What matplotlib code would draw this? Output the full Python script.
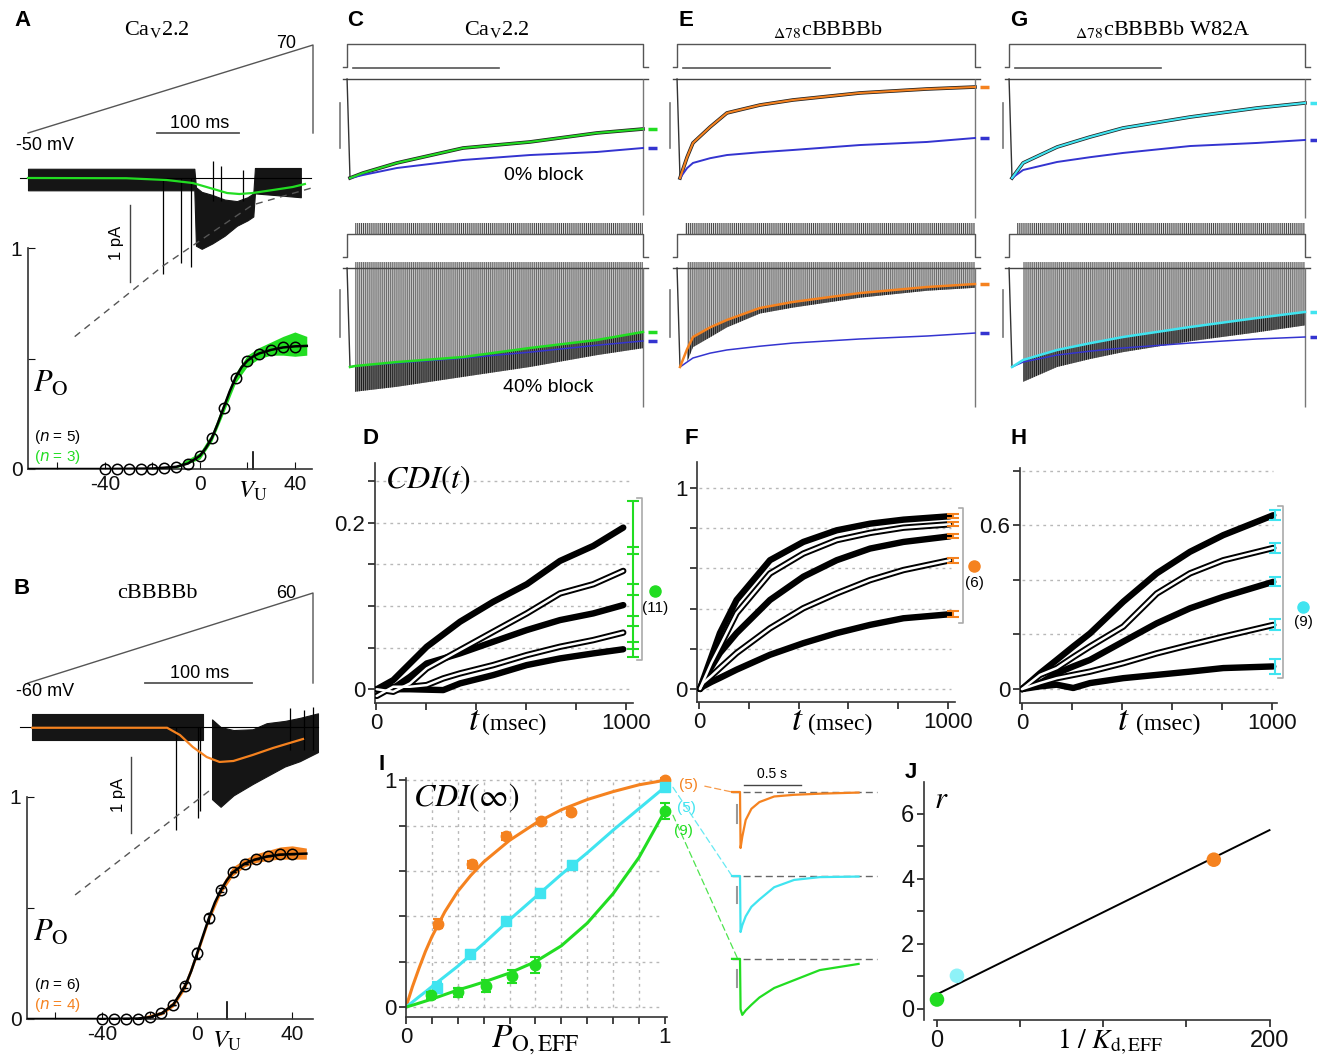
import numpy as np
import matplotlib
matplotlib.use('Agg')
import matplotlib.pyplot as plt
from matplotlib.patches import ConnectionPatch

# ======================= DATA =======================
# ---- Panel A (CaV2.2): ramp, single-channel record, Po-V
A_ramp_t = [0, 348, 348]
A_ramp_v = [-50, 70, -50]
A_bar_t = [158, 258]
A_noise_t = [0, 100, 203, 205, 212, 225, 240, 255, 268, 275, 277, 300, 333]
A_noise_hi = [0.12, 0.12, 0.12, -0.12, -0.18, -0.22, -0.28, -0.3, -0.25, -0.2, 0.13, 0.13, 0.13]
A_noise_lo = [-0.16, -0.16, -0.16, -0.88, -0.92, -0.85, -0.75, -0.62, -0.55, -0.5, -0.2, -0.22, -0.25]
A_open_t = [165, 187, 199]
A_open_i = [-1.25, -1.1, -1.15]
A_close_t = [226, 236, 262]
A_close_i = [0.22, 0.15, 0.1]
A_avg_t = [0, 120, 169, 201, 218, 243, 258, 274, 299, 323, 338]
A_avg_i = [0, -0.003, -0.026, -0.065, -0.117, -0.195, -0.208, -0.195, -0.156, -0.117, -0.078]
A_ghk_t = [57, 165, 198, 274, 346]
A_ghk_i = [-2.06, -1.14, -0.9, -0.35, -0.13]
A_v = [-40, -35, -30, -25, -20, -15, -10, -5, 0, 5, 10, 15, 20, 25, 30, 35, 40]
A_po = [0, 0, 0, 0, 0, 0.003, 0.007, 0.024, 0.057, 0.142, 0.278, 0.413, 0.488, 0.521, 0.539, 0.551, 0.554]
A_fit_v = [-72, -40, -20, -10, -5, 0, 2.5, 5, 7.5, 10, 12.5, 15, 17.5, 20, 22.5, 25, 30, 35, 40, 45]
A_fit_p = [0, 0, 0.002, 0.01, 0.025, 0.06, 0.095, 0.14, 0.205, 0.278, 0.35, 0.413, 0.46, 0.49, 0.51, 0.523, 0.539, 0.55, 0.555, 0.557]
A_gv = [-20, -10, 0, 5, 10, 15, 20, 25, 30, 35, 40, 45]
A_glo = [0, 0.005, 0.045, 0.125, 0.255, 0.39, 0.465, 0.5, 0.515, 0.515, 0.51, 0.515]
A_ghi = [0.004, 0.015, 0.075, 0.16, 0.3, 0.435, 0.515, 0.55, 0.575, 0.6, 0.62, 0.6]
A_vu = 22.3

# ---- Panel B (cBBBBb)
B_ramp_t = [0, 266, 266]
B_ramp_v = [-60, 60, -60]
B_bar_t = [109, 209]
B_noise1_t = [4, 80, 164]
B_noise1_hi = [0.17, 0.17, 0.17]
B_noise1_lo = [-0.17, -0.17, -0.17]
B_noise2_t = [172, 180, 192, 210, 223, 240, 254, 271]
B_noise2_hi = [0.1, 0.0, -0.04, -0.03, 0.05, 0.08, 0.12, 0.18]
B_noise2_lo = [-0.95, -1.05, -0.9, -0.75, -0.65, -0.52, -0.45, -0.33]
B_open_t = [138, 159, 161]
B_open_i = [-1.36, -1.2, -1.1]
B_close_t = [245, 258, 266]
B_close_i = [0.25, 0.22, 0.26]
B_avg_t = [4, 130, 142, 154, 167, 179, 192, 210, 229, 257]
B_avg_i = [-0.01, -0.01, -0.105, -0.263, -0.395, -0.46, -0.447, -0.368, -0.276, -0.158]
B_ghk_t = [44, 173]
B_ghk_i = [-2.21, -0.80]
B_v = [-40, -35, -30, -25, -20, -15, -10, -5, 0, 5, 10, 15, 20, 25, 30, 35, 40]
B_po = [0, 0, 0, 0, 0.008, 0.027, 0.064, 0.15, 0.296, 0.454, 0.581, 0.66, 0.698, 0.719, 0.734, 0.741, 0.743]
B_err = [0, 0, 0, 0, 0, 0, 0, 0.01, 0.025, 0.02, 0.01, 0, 0, 0, 0, 0, 0]
B_fit_v = [-72, -40, -25, -20, -15, -10, -5, -2.5, 0, 2.5, 5, 7.5, 10, 12.5, 15, 20, 25, 30, 35, 40, 46]
B_fit_p = [0, 0, 0.002, 0.008, 0.025, 0.065, 0.15, 0.215, 0.295, 0.375, 0.455, 0.525, 0.58, 0.625, 0.66, 0.7, 0.72, 0.733, 0.74, 0.743, 0.745]
B_ov = [-25, -15, -10, -5, 0, 5, 10, 15, 20, 25, 30, 35, 40, 46]
B_olo = [0, 0.018, 0.055, 0.135, 0.28, 0.44, 0.565, 0.645, 0.685, 0.705, 0.715, 0.72, 0.72, 0.72]
B_ohi = [0.005, 0.035, 0.08, 0.17, 0.315, 0.475, 0.6, 0.685, 0.72, 0.745, 0.76, 0.775, 0.78, 0.77]
B_vu = 12.6

# ---- Panels C/E/G: normalized currents (0 = baseline, -1 = peak)
STEP_T = [-24, -10, -10, 1000, 1000, 1017]
STEP_TOP_V = [0.121, 0.121, 0.354, 0.354, 0.121, 0.121]
STEP_BOT_V = [0.111, 0.111, 0.343, 0.343, 0.111, 0.111]
TRAIN_T = [17, 1000]
TRAIN_LO, TRAIN_HI = 0.343, 0.455
BAR500_T = [10, 510]
BASE_T = [-24, 1017]
ACT_T = [-10]
ACT_I = [0]

C_top_t = [0, 44, 160, 386, 614, 843, 1000]
C_top_fit = [-1, -0.95, -0.848, -0.697, -0.636, -0.545, -0.505]
C_top_blue = [-1, -0.97, -0.899, -0.818, -0.768, -0.737, -0.697]
C_bot_t = [0, 17, 160, 386, 614, 843, 1000]
C_bot_fit = [-1, -0.99, -0.95, -0.899, -0.808, -0.727, -0.646]
C_bot_blue = [-1, -0.99, -0.96, -0.91, -0.85, -0.78, -0.737]
C_bot_tips = [-1.0, -1.25, -1.2, -1.1, -1.0, -0.88, -0.81]

E_top_t = [0, 24, 44, 102, 159, 271, 383, 610, 837, 1000]
E_top_fit = [-1, -0.79, -0.646, -0.485, -0.343, -0.263, -0.212, -0.141, -0.101, -0.081]
E_top_blue = [-1, -0.9, -0.848, -0.8, -0.768, -0.74, -0.717, -0.667, -0.636, -0.596]
E_bot_t = [0, 24, 44, 102, 159, 271, 383, 610, 837, 1000]
E_bot_fit = [-1, -0.82, -0.697, -0.6, -0.525, -0.404, -0.343, -0.253, -0.192, -0.162]
E_bot_blue = [-1, -0.95, -0.909, -0.86, -0.828, -0.79, -0.758, -0.717, -0.687, -0.657]
E_bot_tips = [-1.05, -0.95, -0.8, -0.7, -0.6, -0.46, -0.4, -0.3, -0.23, -0.2]

G_top_t = [0, 38, 154, 266, 379, 608, 836, 1000]
G_top_fit = [-1, -0.848, -0.687, -0.586, -0.495, -0.384, -0.293, -0.242]
G_top_blue = [-1, -0.919, -0.838, -0.79, -0.747, -0.677, -0.646, -0.616]
G_bot_t = [0, 38, 154, 266, 379, 608, 836, 1000]
G_bot_fit = [-1, -0.929, -0.828, -0.76, -0.697, -0.596, -0.505, -0.444]
G_bot_blue = [-1, -0.95, -0.879, -0.84, -0.808, -0.758, -0.717, -0.697]
G_bot_tips = [-1.0, -1.15, -1.0, -0.92, -0.85, -0.74, -0.65, -0.58]

# ---- Panel D: CDI(t) CaV2.2
D_t1 = [3, 69, 136, 203, 336, 469, 603, 736, 869, 989]
D_c1 = [0, 0.011, 0.031, 0.051, 0.081, 0.105, 0.126, 0.154, 0.172, 0.194]
D_c2 = [0, -0.003, 0.007, 0.025, 0.047, 0.069, 0.091, 0.115, 0.126, 0.142]
D_c3 = [0, 0.001, 0.015, 0.031, 0.043, 0.057, 0.071, 0.083, 0.091, 0.101]
D_t4 = [3, 69, 136, 203, 269, 336, 469, 603, 736, 869, 989]
D_c4 = [-0.008, 0.003, 0.003, 0.005, 0.013, 0.019, 0.029, 0.041, 0.051, 0.059, 0.068]
D_t5 = [3, 136, 269, 336, 469, 603, 736, 869, 989]
D_c5 = [0, 0, -0.001, 0.007, 0.017, 0.029, 0.037, 0.043, 0.048]
D_err = [0.032, 0.029, 0.025, 0.02, 0.009]

# ---- Panel F: CDI(t) d78cBBBBb
F_t = [4, 17, 50, 84, 151, 285, 419, 553, 687, 821, 1008]
F_c1 = [0, 0.046, 0.16, 0.278, 0.443, 0.641, 0.732, 0.79, 0.823, 0.843, 0.86]
F_c2 = [0, 0.038, 0.13, 0.212, 0.377, 0.575, 0.674, 0.741, 0.777, 0.803, 0.82]
F_c3 = [0, 0.038, 0.11, 0.179, 0.278, 0.443, 0.559, 0.641, 0.699, 0.732, 0.76]
F_c4 = [0, 0.03, 0.065, 0.104, 0.179, 0.302, 0.402, 0.476, 0.542, 0.592, 0.641]
F_c5 = [0, 0.013, 0.035, 0.055, 0.096, 0.17, 0.228, 0.278, 0.319, 0.352, 0.372]
F_err = [0.01, 0.01, 0.01, 0.012, 0.016]

# ---- Panel H: CDI(t) d78cBBBBb W82A
H_t = [0, 72, 139, 205, 272, 405, 539, 672, 805, 1005]
H_c1 = [0, 0.058, 0.107, 0.156, 0.204, 0.32, 0.424, 0.503, 0.564, 0.637]
H_c2 = [0, 0.052, 0.077, 0.117, 0.156, 0.229, 0.35, 0.424, 0.472, 0.517]
H_c3 = [0, 0.022, 0.058, 0.083, 0.107, 0.174, 0.241, 0.296, 0.338, 0.393]
H_c4 = [0, 0.022, 0.04, 0.052, 0.064, 0.095, 0.131, 0.162, 0.192, 0.235]
H_c5 = [0, 0.01, 0.016, 0.004, 0.022, 0.04, 0.052, 0.064, 0.077, 0.083]
H_err = [0.018, 0.017, 0.017, 0.02, 0.027]

# ---- Panel I: CDI(inf) vs Po,EFF
I_or_x = [0.125, 0.254, 0.385, 0.52, 0.637, 1.0]
I_or_y = [0.368, 0.629, 0.753, 0.819, 0.86, 1.0]
I_or_e = [0.02, 0.015, 0.015, 0.012, 0.015, 0.01]
I_cy_x = [0.121, 0.247, 0.386, 0.517, 0.642, 1.0]
I_cy_y = [0.085, 0.235, 0.379, 0.504, 0.628, 0.97]
I_cy_e = [0.025, 0.015, 0.015, 0.015, 0.015, 0.015]
I_gr_x = [0.097, 0.202, 0.308, 0.41, 0.498, 1.0]
I_gr_y = [0.051, 0.066, 0.093, 0.135, 0.187, 0.865]
I_gr_e = [0.015, 0.02, 0.025, 0.03, 0.035, 0.035]
I_fit_x = [0, 0.025, 0.05, 0.075, 0.1, 0.15, 0.2, 0.25, 0.3, 0.4, 0.5, 0.6, 0.7, 0.8, 0.9, 1.0]
I_fit_or = [0, 0.09, 0.17, 0.245, 0.31, 0.42, 0.51, 0.58, 0.64, 0.735, 0.81, 0.87, 0.915, 0.95, 0.98, 1.0]
I_fit_cy = [0, 0.022, 0.045, 0.067, 0.09, 0.135, 0.18, 0.23, 0.28, 0.385, 0.485, 0.585, 0.68, 0.78, 0.875, 0.97]
I_fit_gr = [0, 0.008, 0.017, 0.026, 0.035, 0.055, 0.075, 0.092, 0.11, 0.15, 0.2, 0.27, 0.37, 0.5, 0.66, 0.865]
# inset traces (s, normalized)
IN_t = [-0.07, 0.0, 0.005, 0.02, 0.05, 0.1, 0.17, 0.3, 0.475, 0.7, 1.04]
IN_or = [0, 0, -1.0, -0.8, -0.5, -0.3, -0.18, -0.08, -0.05, -0.03, -0.01]
IN_cy = [0, 0, -1.0, -0.88, -0.72, -0.55, -0.42, -0.2, -0.07, -0.02, -0.01]
IN_gr = [0, 0, -0.9, -1.0, -0.92, -0.82, -0.69, -0.52, -0.38, -0.2, -0.09]
IN_off = [0, -1.5, -2.98]

# ---- Panel J: r vs 1/Kd,EFF
J_x = [0, 12, 166.5]
J_y = [0.29, 1.02, 4.59]
J_line_x = [0, 200]
J_line_y = [0.45, 5.5]

# ======================= STYLE =======================
W, H = 1317, 1056
plt.rcParams['font.family'] = ['Liberation Sans', 'DejaVu Sans']
plt.rcParams['mathtext.fontset'] = 'stix'
plt.rcParams['hatch.linewidth'] = 0.7
SERIF = ['Liberation Serif', 'DejaVu Serif']
GREEN = '#22dd22'; ORANGE = '#f5821f'; CYAN = '#40e4f0'; BLUE = '#3434d0'
LCYAN = '#8ef2f8'; DGRAY = '#555555'

fig = plt.figure(figsize=(W / 100, H / 100), dpi=100)


def add_ax(l, t, r, b):
    ax = fig.add_axes([l / W, 1 - b / H, (r - l) / W, (b - t) / H])
    ax.patch.set_visible(False)
    return ax


def mapped(box, xa, xb, ya, yb):
    l, t, r, b = box
    ax = add_ax(*box)
    sx = (xb[1] - xa[1]) / (xb[0] - xa[0])
    ax.set_xlim(xa[1] + (l - xa[0]) * sx, xa[1] + (r - xa[0]) * sx)
    sy = (yb[1] - ya[1]) / (yb[0] - ya[0])
    ax.set_ylim(ya[1] + (b - ya[0]) * sy, ya[1] + (t - ya[0]) * sy)
    ax.set_axis_off()
    return ax


def ftext(x, y, s, **kw):
    kw.setdefault('ha', 'center')
    kw.setdefault('va', 'center')
    return fig.text(x / W, 1 - y / H, s, **kw)


def letter(x, y, s):
    ftext(x, y, s, fontsize=16, fontweight='bold', ha='left')


def style_axes(ax):
    for s in ['top', 'right']:
        ax.spines[s].set_visible(False)
    for s in ['left', 'bottom']:
        ax.spines[s].set_linewidth(1.2)
        ax.spines[s].set_color('#333333')


# ======================= PANEL A / B =======================
def ramp_panel(top, ramp_t, ramp_v, bar_t, pxmap, vmap, vlow):
    ax = mapped(top, *pxmap, *vmap)
    ax.plot(ramp_t, ramp_v, color=DGRAY, lw=1)
    ax.plot(bar_t, [vlow, vlow], color=DGRAY, lw=1.3)
    return ax


def record_panel(box, xmap, ymap, base_t, fills, opens, closes, avg, ghk, sbar, color):
    ax = mapped(box, *xmap, *ymap)
    ax.plot(base_t, [0, 0], color='k', lw=0.8)
    for (t, lo, hi) in fills:
        ax.fill_between(t, lo, hi, color='#151515', lw=0.8)
    ax.vlines(opens[0], opens[1], 0, color='k', lw=0.9)
    ax.vlines(closes[0], -0.3, closes[1], color='k', lw=0.9)
    ax.plot(avg[0], avg[1], color=color, lw=1.6)
    ax.plot(ghk[0], ghk[1], color='#555555', lw=1, ls=(0, (5, 4)))
    ax.plot([sbar[0], sbar[0]], sbar[1:], color='#444444', lw=1)
    return ax


def po_panel(box, xlim, v, po, fit_v, fit_p, bv, blo, bhi, color, vu, err=None):
    ax = add_ax(*box)
    style_axes(ax)
    ax.set_xlim(*xlim)
    ax.set_ylim(0, 1)
    ax.fill_between(bv, blo, bhi, color=color, lw=0, zorder=2)
    ax.plot(fit_v, fit_p, color='k', lw=1.8, zorder=3)
    if err is not None:
        ax.errorbar(v, po, yerr=err, fmt='none', ecolor='k', elinewidth=0.8, capsize=2, zorder=3)
    ax.plot(v, po, 'o', mfc='none', mec='k', ms=7.5, mew=1.1, clip_on=False, zorder=4)
    ax.set_yticks([0, 0.5, 1])
    ax.set_yticklabels(['0', '', '1'])
    ax.set_xticks([-60, -40, -20, 0, 20, 40])
    ax.set_xticklabels(['', '-40', '', '0', '', '40'])
    ax.tick_params(direction='in', length=5, labelsize=15, pad=4, colors='#111111')
    ax.plot([vu, vu], [0, 0.075], color='k', lw=1.2, clip_on=False)
    ax.text(vu, -0.045, r'$V_{\mathrm{U}}$', fontsize=18, ha='center', va='top')
    return ax


# A
letter(14, 20, 'A')
ftext(157, 30, r'Ca$_{\mathrm{V}}$2.2', fontsize=16, family=SERIF)
ramp_panel((20, 38, 320, 140), A_ramp_t, A_ramp_v, A_bar_t, [(28, 0), (313, 348)], [(133, -50), (45, 70)], -50)
ftext(286, 44, '70', fontsize=13)
ftext(16, 145, '-50 mV', fontsize=13, ha='left')
ftext(200, 124, '100 ms', fontsize=13)
record_panel((15, 150, 325, 345), [(28, 0), (300, 332)], [(178, 0), (255, -1)], [-10, 346],
             [(A_noise_t, A_noise_lo, A_noise_hi)], (A_open_t, A_open_i), (A_close_t, A_close_i),
             (A_avg_t, A_avg_i), (A_ghk_t, A_ghk_i), (124, -0.35, -1.35), GREEN)
ftext(117, 243, '1 pA', fontsize=12, rotation=90)
po_panel((28, 248, 312, 469), (-72.4, 47.2), A_v, A_po, A_fit_v, A_fit_p, A_gv, A_glo, A_ghi, GREEN, A_vu)
ftext(33, 384, r'$P_{\mathrm{O}}$', fontsize=22, ha='left')
ftext(34, 437, r'($\mathit{n}$ = 5)', fontsize=11, ha='left', math_fontfamily='dejavusans')
ftext(34, 457, r'($\mathit{n}$ = 3)', fontsize=11, ha='left', color=GREEN, math_fontfamily='dejavusans')

# B
letter(14, 589, 'B')
ftext(157, 593, 'cBBBBb', fontsize=16, family=SERIF)
ramp_panel((20, 585, 320, 690), B_ramp_t, B_ramp_v, B_bar_t, [(28, 0), (313, 266)], [(683, -60), (593, 60)], -60)
ftext(286, 593, '60', fontsize=13)
ftext(16, 692, '-60 mV', fontsize=13, ha='left')
ftext(200, 674, '100 ms', fontsize=13)
record_panel((15, 695, 325, 900), [(28, 0), (135, 100)], [(727, 0), (803, -1)], [-7.5, 271],
             [(B_noise1_t, B_noise1_lo, B_noise1_hi), (B_noise2_t, B_noise2_lo, B_noise2_hi)],
             (B_open_t, B_open_i), (B_close_t, B_close_i),
             (B_avg_t, B_avg_i), (B_ghk_t, B_ghk_i), (96, -0.39, -1.39), ORANGE)
ftext(118, 795, '1 pA', fontsize=12, rotation=90)
po_panel((27, 797, 313, 1019), (-71.6, 48.8), B_v, B_po, B_fit_v, B_fit_p, B_ov, B_olo, B_ohi, ORANGE, B_vu, err=B_err)
ftext(33, 933, r'$P_{\mathrm{O}}$', fontsize=22, ha='left')
ftext(34, 985, r'($\mathit{n}$ = 6)', fontsize=11, ha='left', math_fontfamily='dejavusans')
ftext(34, 1005, r'($\mathit{n}$ = 4)', fontsize=11, ha='left', color=ORANGE, math_fontfamily='dejavusans')


# ======================= PANELS C / E / G =======================
def trace_column(l, r, x0, x1000, top, bot, color, tails, sb_t):
    # top: 0% block
    axT = mapped((l, 38, r, 225), (x0, 0), (x1000, 1000), (79, 0), (178, -1))
    axT.plot(STEP_T, STEP_TOP_V, color=DGRAY, lw=1, clip_on=False)
    axT.plot(BAR500_T, [0.111, 0.111], color=DGRAY, lw=1.2)
    axT.plot(BASE_T, [0, 0], color='#444444', lw=1)
    t, fit, blue = top
    axT.plot(ACT_T + t[:1], ACT_I + fit[:1], color='#333333', lw=1.0, zorder=2)
    axT.plot(t, fit, color='#222222', lw=2.6, zorder=2)
    axT.plot(t, blue, color=BLUE, lw=1.4, zorder=3)
    axT.plot(t, fit, color=color, lw=1.5, zorder=4)
    axT.vlines(1000, tails[0], 0, color='#777777', lw=1)
    axT.hlines([fit[-1], blue[-1]], 1017, 1047, colors=[color, BLUE], lw=2.5, clip_on=False)
    axT.plot([sb_t, sb_t], [-0.24, -0.7], color='#777777', lw=1.2, clip_on=False)
    # bottom: 40% block
    axB = mapped((l, 215, r, 412), (x0, 0), (x1000, 1000), (268, 0), (367, -1))
    axB.fill_between(TRAIN_T, TRAIN_LO, TRAIN_HI, facecolor='#dddddd', edgecolor='#444444',
                     hatch='||||||||', lw=0)
    axB.plot(STEP_T, STEP_BOT_V, color=DGRAY, lw=1, clip_on=False)
    axB.plot(BASE_T, [0, 0], color='#444444', lw=1)
    t, fit, blue, tips = bot
    axB.plot(ACT_T + t[:1], ACT_I + fit[:1], color='#333333', lw=1.0)
    axB.fill_between(t[1:], fit[1:], 0.06, facecolor='#c4c4c4', edgecolor='#6a6a6a', hatch='||||||||', lw=0)
    axB.fill_between(t[1:], tips[1:], fit[1:], facecolor='#7a7a7a', edgecolor='#1a1a1a', hatch='||||||||', lw=0)
    axB.plot(t, blue, color=BLUE, lw=1.1, zorder=3)
    axB.plot(t, fit, color=color, lw=1.8, zorder=4)
    axB.vlines(1000, tails[1], 0, color='#777777', lw=1)
    axB.hlines([fit[-1], blue[-1]], 1017, 1047, colors=[color, BLUE], lw=2.5, clip_on=False)
    axB.plot([sb_t, sb_t], [-0.22, -0.7], color='#777777', lw=1.2, clip_on=False)
    return axT, axB


letter(347, 20, 'C')
ftext(497, 29, r'Ca$_{\mathrm{V}}$2.2', fontsize=16, family=SERIF)
trace_column(335, 662, 350, 643, (C_top_t, C_top_fit, C_top_blue),
             (C_bot_t, C_bot_fit, C_bot_blue, C_bot_tips), GREEN, (-1.37, -1.4), -34)
ftext(544, 176, '0% block', fontsize=14)
ftext(548, 388, '40% block', fontsize=14)

letter(678, 20, 'E')
ftext(828, 29, r'$_{\Delta 78}$cBBBBb', fontsize=16, family=SERIF)
trace_column(665, 992, 680, 975, (E_top_t, E_top_fit, E_top_blue),
             (E_bot_t, E_bot_fit, E_bot_blue, E_bot_tips), ORANGE, (-1.4, -1.4), -34)

letter(1010, 20, 'G')
ftext(1163, 29, r'$_{\Delta 78}$cBBBBb W82A', fontsize=16, family=SERIF)
trace_column(995, 1317, 1012, 1305, (G_top_t, G_top_fit, G_top_blue),
             (G_bot_t, G_bot_fit, G_bot_blue, G_bot_tips), CYAN, (-1.4, -1.4), -31)


# ======================= PANELS D / F / H =======================
def cdi_panel(box, xlim, ylim, grid_y, grid_t1, yticks, ylabels, curves, err_t, errs, color,
              br_t, br_top, br_bot, dot_t, dot_v, lab_v, lab):
    ax = add_ax(*box)
    style_axes(ax)
    ax.set_xlim(*xlim)
    ax.set_ylim(*ylim)
    ax.hlines(grid_y, 0, grid_t1, colors='#b8b8b8', linestyles=(0, (2, 3)), lw=1, zorder=0)
    ends = []
    for (t, v, kind) in curves:
        ax.plot(t, v, color='k', lw=4.6, solid_capstyle='round', solid_joinstyle='round', zorder=3)
        if kind == 'open':
            ax.plot(t, v, color='white', lw=1.8, solid_capstyle='round', zorder=4)
        ends.append(v[-1])
    ax.errorbar([err_t] * len(ends), ends, yerr=errs, fmt='none', ecolor=color, elinewidth=1.5,
                capsize=4, capthick=1.5, clip_on=False, zorder=5)
    dx = (xlim[1] - xlim[0]) * 0.018
    ax.plot([br_t - dx, br_t, br_t, br_t - dx], [br_top, br_top, br_bot, br_bot], color='#aaaaaa',
            lw=1.2, clip_on=False)
    ax.plot([dot_t], [dot_v], 'o', color=color, ms=8, clip_on=False)
    ax.text(dot_t, lab_v, lab, fontsize=11, ha='center', va='center')
    ax.set_yticks(yticks)
    ax.set_yticklabels(ylabels)
    ax.set_xticks([0, 200, 400, 600, 800, 1000])
    ax.set_xticklabels(['0', '', '', '', '', '1000'])
    ax.tick_params(direction='out', length=5, width=1.1, labelsize=16, pad=2, colors='#111111')
    return ax


letter(362, 439, 'D')
cdi_panel((375, 463, 633, 703), (-4, 1028), (-0.0165, 0.2715), [0, 0.05, 0.1, 0.15, 0.2, 0.25], 1016,
          [0, 0.05, 0.1, 0.15, 0.2, 0.25], ['0', '', '', '', '0.2', ''],
          [(D_t1, D_c1, 'fill'), (D_t1, D_c2, 'open'), (D_t1, D_c3, 'fill'), (D_t4, D_c4, 'open'),
           (D_t5, D_c5, 'fill')], 1028, D_err, GREEN, 1063, 0.229, 0.035, 1116, 0.118, 0.098, '(11)')
ftext(385, 480, r'$\mathit{CDI}(t)$', fontsize=23, ha='left')

letter(684, 439, 'F')
cdi_panel((697, 462, 955, 702), (-8, 1028), (-0.065, 1.13), [0, 0.2, 0.4, 0.6, 0.8, 1.0], 1010,
          [0, 0.2, 0.4, 0.6, 0.8, 1.0], ['0', '', '', '', '', '1'],
          [(F_t, F_c1, 'fill'), (F_t, F_c2, 'open'), (F_t, F_c3, 'fill'), (F_t, F_c4, 'open'),
           (F_t, F_c5, 'fill')], 1019, F_err, ORANGE, 1061, 0.902, 0.327, 1106, 0.613, 0.53, '(6)')

letter(1010, 439, 'H')
cdi_panel((1020, 468, 1277, 703), (-8, 1020), (-0.051, 0.81), [0, 0.2, 0.4, 0.6, 0.8], 1005,
          [0, 0.2, 0.4, 0.6, 0.8], ['0', '', '', '0.6', ''],
          [(H_t, H_c1, 'fill'), (H_t, H_c2, 'open'), (H_t, H_c3, 'fill'), (H_t, H_c4, 'open'),
           (H_t, H_c5, 'fill')], 1012, H_err, CYAN, 1044, 0.669, 0.040, 1125, 0.302, 0.247, '(9)')

for xt, xm in [(474, 514), (797, 840), (1123, 1168)]:
    ftext(xt, 730, r'$t$', fontsize=26, va='baseline')
    ftext(xm, 730, '(msec)', fontsize=17, va='baseline', family=SERIF)

# ======================= PANEL I =======================
letter(378, 764, 'I')
axI = add_ax(406, 778, 667, 1017)
style_axes(axI)
axI.set_xlim(0, 1.008)
axI.set_ylim(-0.044, 1.01)
axI.hlines([0, 0.2, 0.4, 0.6, 0.8, 1.0], 0, 0.99, colors='#b8b8b8', linestyles=(0, (2, 3)), lw=1, zorder=0)
axI.vlines([0.1, 0.2, 0.3, 0.4, 0.5, 0.6, 0.7, 0.8, 0.9], 0, 1.0, colors='#b8b8b8', linestyles=(0, (2, 3)),
           lw=1, zorder=0)
axI.plot(I_fit_x, I_fit_or, color=ORANGE, lw=2.2, zorder=2)
axI.plot(I_fit_x, I_fit_cy, color=CYAN, lw=2.2, zorder=2)
axI.plot(I_fit_x, I_fit_gr, color=GREEN, lw=2.2, zorder=2)
axI.errorbar(I_or_x, I_or_y, yerr=I_or_e, fmt='o', color=ORANGE, ms=7.5, capsize=3.5, elinewidth=1.5,
             capthick=1.5, clip_on=False, zorder=4)
axI.errorbar(I_cy_x, I_cy_y, yerr=I_cy_e, fmt='s', color=CYAN, ms=6.5, capsize=3.5, elinewidth=1.5,
             capthick=1.5, clip_on=False, zorder=4)
axI.errorbar(I_gr_x, I_gr_y, yerr=I_gr_e, fmt='o', color=GREEN, ms=7.5, capsize=3.5, elinewidth=1.5,
             capthick=1.5, clip_on=False, zorder=4)
axI.set_xticks([0, 0.1, 0.2, 0.3, 0.4, 0.5, 0.6, 0.7, 0.8, 0.9, 1.0])
axI.set_xticklabels(['0', '', '', '', '', '', '', '', '', '', '1'])
axI.set_yticks([0, 0.2, 0.4, 0.6, 0.8, 1.0])
axI.set_yticklabels(['0', '', '', '', '', '1'])
axI.tick_params(direction='out', length=5, width=1.1, labelsize=16, pad=2, colors='#111111')
ftext(413, 798, r'$\mathit{CDI}(\infty)$', fontsize=23, ha='left')
ftext(535, 1040, r'$P_{\mathrm{O,EFF}}$', fontsize=24)
ftext(688, 785, '(5)', fontsize=11, color=ORANGE)
ftext(686, 808, '(5)', fontsize=11, color=CYAN)
ftext(683, 831, '(9)', fontsize=11, color=GREEN)

# inset traces
axIn = mapped((725, 765, 880, 1025), (740, 0), (797, 0.5), (792, 0), (848, -1))
for vals, off, col, sb in [(IN_or, IN_off[0], ORANGE, (-0.23, -0.55)), (IN_cy, IN_off[1], CYAN, (-0.2, -0.48)),
                            (IN_gr, IN_off[2], GREEN, (-0.2, -0.5))]:
    axIn.plot([-0.07, 1.2], [off, off], color='#666666', lw=1, ls=(0, (5, 3)))
    axIn.plot(IN_t, [v + off for v in vals], color=col, lw=1.6)
    axIn.plot([-0.026, -0.026], [off + sb[0], off + sb[1]], color='#999999', lw=1.5)
axIn.plot([0.035, 0.535], [0.125, 0.125], color='#444444', lw=1)
axIn.text(0.285, 0.2, '0.5 s', fontsize=10, ha='center', va='bottom')
for xyA, xyB, col in [((1.154, 0.974), (-0.07, IN_off[0]), ORANGE), ((1.031, 0.969), (-0.07, IN_off[1]), CYAN),
                      ((1.031, 0.846), (-0.02, IN_off[2]), GREEN)]:
    cp = ConnectionPatch(xyA=xyA, coordsA=axI.transData, xyB=xyB, coordsB=axIn.transData,
                         color=col, lw=0.9, ls=(0, (5, 3)), alpha=0.8)
    fig.add_artist(cp)

# ======================= PANEL J =======================
letter(905, 772, 'J')
axJ = add_ax(924, 782, 1272, 1020)
style_axes(axJ)
axJ.set_xlim(-7.8, 201.5)
axJ.set_ylim(-0.34, 6.98)
axJ.spines['bottom'].set_bounds(-2, 200)
axJ.plot(J_line_x, J_line_y, color='k', lw=1.4)
axJ.scatter(J_x, J_y, c=[GREEN, LCYAN, ORANGE], s=110, zorder=4, clip_on=False, edgecolors='none')
axJ.set_xticks([0, 50, 100, 150, 200])
axJ.set_xticklabels(['0', '', '', '', '200'])
axJ.set_yticks([0, 1, 2, 3, 4, 5, 6])
axJ.set_yticklabels(['0', '', '2', '', '4', '', '6'])
axJ.tick_params(direction='out', length=5, width=1.1, labelsize=17, pad=2, colors='#111111')
ftext(934, 800, r'$r$', fontsize=22, ha='left')
ftext(1110, 1042, r'$1\ /\ K_{\mathrm{d,EFF}}$', fontsize=20)

fig.savefig('out.png', dpi=100, facecolor='white')
